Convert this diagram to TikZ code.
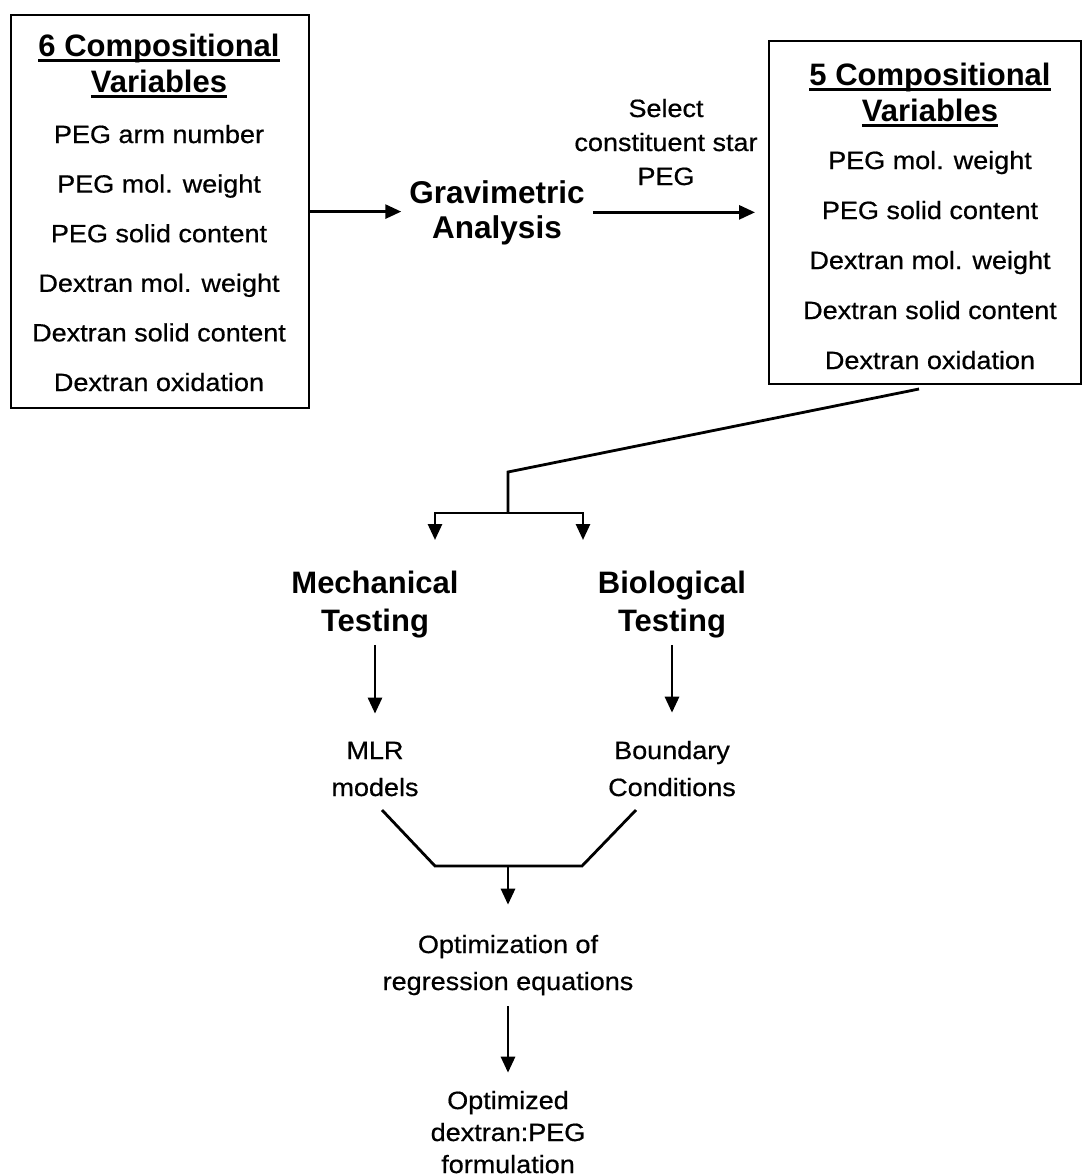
\documentclass[tikz,border=0pt]{standalone}
\usepackage{fontspec}
\setmainfont{Liberation Sans}
\newfontfamily\rf{Liberation Sans}[FakeStretch=1.08, FakeBold=0.6]
\usetikzlibrary{arrows.meta}
\newcommand\myul[1]{\setbox0\hbox{#1}\rlap{\usebox0}\rule[-6pt]{\wd0}{2.8pt}}
\tikzset{
  boxed/.style={draw, line width=2.2pt, inner sep=0pt, anchor=north west},
  hd/.style={anchor=base, align=center, inner sep=0pt, font=\fontsize{31}{36}\selectfont\bfseries},
  bold2/.style={anchor=base, align=center, inner sep=0pt, font=\fontsize{31}{38}\selectfont\bfseries},
  lst/.style={anchor=base, align=center, inner sep=0pt, font=\fontsize{25}{49.6}\rf},
  lst5/.style={anchor=base, align=center, inner sep=0pt, font=\fontsize{25}{50}\rf},
  txt/.style={anchor=base, align=center, inner sep=0pt, font=\fontsize{25}{34}\rf},
  txtb/.style={anchor=base, align=center, inner sep=0pt, font=\fontsize{25}{37}\rf},
  txtc/.style={anchor=base, align=center, inner sep=0pt, font=\fontsize{25}{32}\rf},
  ln/.style={line width=2.8pt},
  arr/.style={line width=2.8pt, -{Triangle[length=16pt,width=14pt]}}
}
\begin{document}
\begin{tikzpicture}[x=1pt,y=-1pt]
\useasboundingbox[fill=white] (0,0) rectangle (1084,1176);
% boxes
\node[boxed, minimum width=298pt, minimum height=393pt] (box6) at (10,14) {};
\node[boxed, minimum width=312pt, minimum height=343pt] (box5) at (768,40) {};
% box contents (anchor base = last line baseline)
\node[hd] (h6) at (159,92) {\myul{6 Compositional}\\\myul{Variables}};
\node[lst] (l6) at (159,391) {PEG arm number\\PEG mol. weight\\PEG solid content\\Dextran mol. weight\\Dextran solid content\\Dextran oxidation};
\node[hd] (h5) at (930,121) {\myul{5 Compositional}\\\myul{Variables}};
\node[lst5] (l5) at (930,369) {PEG mol. weight\\PEG solid content\\Dextran mol. weight\\Dextran solid content\\Dextran oxidation};
% gravimetric
\node[hd, inner xsep=8pt, font=\fontsize{31.5}{35}\selectfont\bfseries] (grav) at (497,238) {Gravimetric\\Analysis};
\node[txt] (sel) at (666,185) {Select\\constituent star\\PEG};
\draw[arr] (box6.east) -- (box6.east -| grav.west);
\draw[arr, shorten >=13pt] (grav.east) -- (grav.east -| box5.west);
% split
\coordinate (s0) at (919,389);
\coordinate (s1) at (508,472);
\coordinate (s2) at (508,513);
\draw[ln] (s0) -- (s1) -- (s2);
\node[bold2] (mech) at (375,631) {Mechanical\\Testing};
\node[bold2] (bio) at (672,631) {Biological\\Testing};
\draw[arr] (s2) -| (435,540);
\draw[arr] (s2) -| (583,540);
% results
\node[txtb] (mlr) at (375,796) {MLR\\models};
\node[txtb] (bnd) at (672,796) {Boundary\\Conditions};
\draw[arr, shorten <=7pt, shorten >=28pt] (mech.south) -- (mlr.north);
\draw[arr, shorten <=7pt, shorten >=28pt] (bio.south) -- (bnd.north);
% merge
\coordinate (m1) at (382,810);
\coordinate (m2) at (435,866);
\coordinate (m3) at (582,866);
\coordinate (m4) at (636,810);
\coordinate (j) at (508,866);
\draw[ln] (m1) -- (m2) -- (m3) -- (m4);
\node[txtb] (optz) at (508,990) {Optimization of\\regression equations};
\draw[arr, shorten >=30pt] (j) -- (optz.north);
\node[txtc] (fin) at (508,1173) {Optimized\\dextran:PEG\\formulation};
\draw[arr, shorten <=11pt, shorten >=18pt] (optz.south) -- (fin.north);
\end{tikzpicture}
\end{document}
